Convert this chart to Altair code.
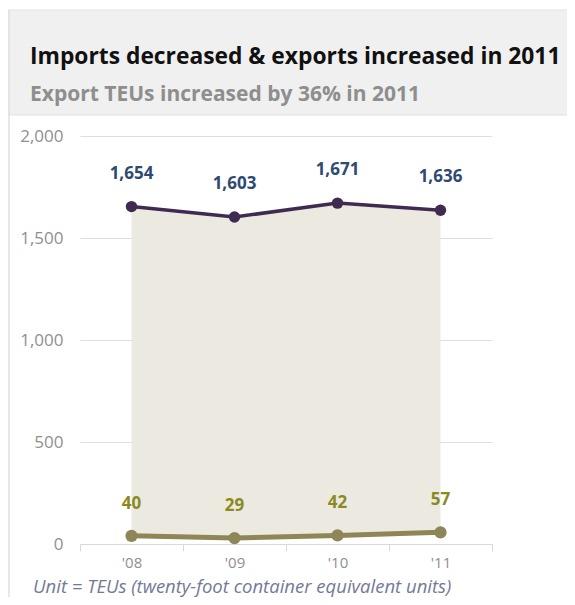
import altair as alt
import pandas as pd

years = ["'08", "'09", "'10", "'11"]
imports = [1654, 1603, 1671, 1636]
exports = [40, 29, 42, 57]
y_ticks = [0, 500, 1000, 1500, 2000]

title_text = "Imports decreased & exports increased in 2011"
subtitle_text = "Export TEUs increased by 36% in 2011"
note_text = "Unit = TEUs (twenty-foot container equivalent units)"

FONT = "Open Sans"
IMP_COLOR = "#3f2b52"
EXP_COLOR = "#8e8656"
IMP_LABEL = "#2d4a70"
EXP_LABEL = "#8a8a22"

df = pd.DataFrame({"year": years, "imports": imports, "exports": exports})
one = pd.DataFrame({"k": [0]})

xenc = alt.X(
    "year:N", sort=years,
    scale=alt.Scale(paddingInner=0, paddingOuter=0),
    axis=alt.Axis(title=None, tickBand="extent", labelAngle=0, domainColor="#d9d9d9",
                  tickColor="#d9d9d9", tickSize=7, labelColor="#8f8f8f", labelFontSize=15,
                  labelPadding=4, labelFont=FONT, grid=False),
)
yscale = alt.Scale(domain=[0, 2000])
yaxis = alt.Axis(title=None, values=y_ticks, labelExpr="format(datum.value, ',')",
                 domain=False, ticks=False,
                 gridColor="#dedede", labelColor="#8f8f8f", labelFontSize=17,
                 labelPadding=17, labelFont=FONT)

base = alt.Chart(df)

band = alt.Chart(one).mark_rect(color="#f0f0f0", stroke="#e2e2e2", strokeWidth=1).encode(
    x=alt.value(-72), x2=alt.value(500), y=alt.value(-126), y2=alt.value(-21))
border = alt.Chart(one).mark_rule(color="#e0e0e0", strokeWidth=1.5).encode(
    x=alt.value(-71), y=alt.value(-126), y2=alt.value(470))
title = alt.Chart(one).mark_text(text=title_text, font=FONT, fontSize=22.8, fontWeight="bold",
                                 color="#111111", align="left", baseline="alphabetic").encode(
    x=alt.value(-50), y=alt.value(-72))
subtitle = alt.Chart(one).mark_text(text=subtitle_text, font=FONT, fontSize=21, fontWeight="bold",
                                    color="#8e8e8e", align="left", baseline="alphabetic").encode(
    x=alt.value(-50), y=alt.value(-35))
note = alt.Chart(one).mark_text(text=note_text, font=FONT, fontSize=18.5, fontStyle="italic",
                                color="#737a96", align="left", baseline="alphabetic").encode(
    x=alt.value(-47), y=alt.value(457))

area = base.mark_area(color="#eceae0").encode(
    x=xenc, y=alt.Y("imports:Q", scale=yscale, axis=yaxis), y2="exports:Q")
imp_line = base.mark_line(color=IMP_COLOR, strokeWidth=3.5,
                          point=alt.OverlayMarkDef(color=IMP_COLOR, size=130, opacity=1)).encode(
    x=xenc, y=alt.Y("imports:Q", scale=yscale))
exp_line = base.mark_line(color=EXP_COLOR, strokeWidth=5,
                          point=alt.OverlayMarkDef(color=EXP_COLOR, size=150, opacity=1)).encode(
    x=xenc, y=alt.Y("exports:Q", scale=yscale))
imp_lab = base.mark_text(font=FONT, fontSize=17, fontWeight="bold", color=IMP_LABEL, dy=-33).encode(
    x=xenc, y=alt.Y("imports:Q", scale=yscale), text=alt.Text("imports:Q", format=","))
exp_lab = base.mark_text(font=FONT, fontSize=17, fontWeight="bold", color=EXP_LABEL, dy=-32).encode(
    x=xenc, y=alt.Y("exports:Q", scale=yscale), text=alt.Text("exports:Q", format=","))

chart = alt.layer(band, border, title, subtitle, area, exp_line, imp_line, imp_lab, exp_lab, note).properties(
    width=412, height=408,
    padding={"left": 72, "top": 128, "right": 75, "bottom": 53},
    autosize=alt.AutoSizeParams(type="none"),
).configure_view(stroke=None)

chart.save("out.html", embed_options={"renderer": "svg", "actions": False})
